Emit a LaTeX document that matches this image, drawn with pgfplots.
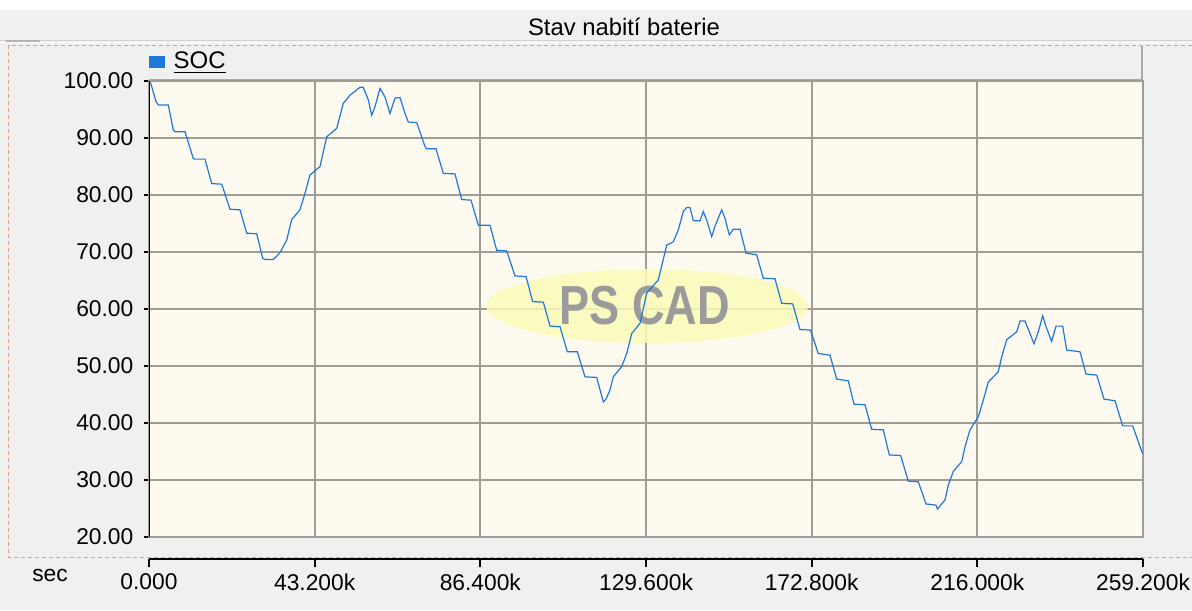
\documentclass[border=0pt]{standalone}
\usepackage{pgfplots}
\pgfplotsset{compat=1.18}
\usepackage{pgfplotstable}
\usepackage{fontspec}
\setmainfont{Liberation Sans}
\definecolor{bggrey}{RGB}{240,240,240}
\definecolor{plotbg}{RGB}{255,250,240}
\definecolor{gridc}{RGB}{160,156,150}
\definecolor{soc}{RGB}{30,120,220}
\definecolor{salmon}{RGB}{225,160,130}
\definecolor{wmyellow}{RGB}{250,250,185}
\definecolor{wmgrey}{RGB}{155,155,155}
\definecolor{legborder}{RGB}{170,170,170}
\newcommand\fs{\fontsize{11.4}{13}\selectfont}

\pgfplotstableread{
x y
0 100
0.5 99.5
1.83 96.4
2.43 95.8
5.03 95.8
6.34 91.4
6.78 91.1
9.39 91.1
11.55 86.4
12.0 86.3
14.60 86.3
16.35 82.0
18.96 81.9
21.12 77.5
23.73 77.4
25.48 73.3
28.08 73.2
29.65 68.9
30.25 68.7
32.41 68.7
34.16 69.9
35.91 72.1
37.21 75.7
39.37 77.4
40.68 80.3
41.98 83.5
44.59 85.0
46.34 90.2
48.95 91.7
50.67 96.1
52.41 97.5
55.02 98.9
55.88 98.9
57.18 96.7
58.07 94.0
58.93 95.5
60.24 98.7
61.54 97.2
62.84 94.3
64.15 97.0
65.45 97.1
66.76 94.3
67.61 92.8
69.81 92.7
71.97 88.5
72.41 88.1
74.84 88.1
76.74 83.8
79.79 83.7
81.54 79.2
83.97 79.1
85.87 74.7
88.92 74.7
90.67 70.3
93.27 70.2
95.44 65.8
98.31 65.7
100.06 61.3
102.82 61.2
104.57 57.0
107.17 56.9
109.08 52.5
111.69 52.5
113.69 48.1
116.74 48.0
118.47 43.7
119.17 44.2
120.21 45.8
121.07 48.1
123.26 49.9
124.57 52.2
125.87 55.7
128.04 57.5
129.78 62.8
132.81 65.1
135.00 71.2
136.72 71.8
138.02 73.9
139.33 77.1
140.21 77.8
141.07 77.8
141.93 75.5
143.68 75.5
144.54 77.1
145.43 75.6
146.73 72.7
147.85 75.0
149.34 77.4
150.20 75.9
151.32 73.0
152.36 74.0
154.11 74.0
155.67 69.8
158.46 69.5
160.18 65.4
163.24 65.3
164.98 61.0
167.85 60.9
169.75 56.4
172.49 56.3
174.52 52.2
177.57 51.9
179.32 47.7
182.35 47.4
183.84 43.3
186.70 43.2
188.45 38.9
191.48 38.8
193.04 34.4
196.01 34.3
197.99 29.8
200.60 29.7
202.61 25.8
205.20 25.6
205.6 24.9
207.56 26.5
208.42 29.1
209.73 31.5
211.92 33.2
212.78 35.8
214.08 38.8
216.25 41.1
217.55 44.0
218.86 47.2
221.46 49.0
222.35 51.6
223.65 54.6
226.26 56.0
227.12 57.9
228.43 57.9
229.73 55.7
230.77 53.9
231.89 56.0
233.04 58.8
234.08 56.6
235.38 54.3
236.51 57.0
238.25 57.0
239.30 52.8
242.77 52.5
244.33 48.6
247.12 48.4
249.03 44.2
251.89 43.9
253.90 39.5
256.51 39.5
258.86 35.0
259.2 34.6
}\socdata

\begin{document}
\begin{tikzpicture}
\begin{scope}[x=0.5pt,y=-0.5pt]
\fill[bggrey] (0,0) rectangle (1192,610);
\fill[white] (0,0) rectangle (1192,10);
\draw[gray!35, line width=0.5pt] (0,41) -- (1192,41);
\draw[gray!60, line width=0.8pt] (6,41) -- (40,41);
\draw[white, line width=0.5pt] (0,42.5) -- (1192,42.5);
\draw[salmon, dash pattern=on 2pt off 1.5pt, line width=0.6pt] (1192,45.5) -- (8.5,45.5) -- (8.5,557.5) -- (1192,557.5);
\node[font=\fontsize{11.9}{14}\selectfont] at (624,27) {Stav nabití baterie};
\fill[bggrey] (149,46) rectangle (1143,81);
\draw[legborder, line width=1pt] (1142,46) -- (1142,80) -- (149,80);
\node[font=\fs] at (50,575) {sec};
\end{scope}

\begin{axis}[
  at={(74.5pt,-268.5pt)}, anchor=south west,
  scale only axis, width=497pt, height=228pt,
  xmin=0, xmax=259.2, ymin=20, ymax=100,
  axis background/.style={fill=plotbg},
  xtick={43.2,86.4,129.6,172.8,216}, xticklabels={},
  xtick style={draw=none},
  ytick={20,30,...,100},
  grid=major,
  major grid style={gridc, line width=1pt},
  axis line style={gridc, line width=1pt},
  ytick style={black, line width=1pt},
  ytick align=outside, ytick pos=left,
  major tick length=2.5pt,
  yticklabel style={font=\fs, xshift=-1.8pt},
  /pgf/number format/fixed,
  /pgf/number format/fixed zerofill,
  /pgf/number format/precision=2,
  /pgf/number format/assume math mode=true,
  legend style={at={(rel axis cs:0,1.0417)}, anchor=west, draw=none, fill=none, font=\fontsize{12}{14}\selectfont, inner sep=0pt},
  legend image code/.code={\fill[soc] (4pt,-2.6pt) rectangle (11pt,2.6pt); \path (13.5pt,0pt);},
]
\fill[wmyellow, opacity=0.85] (axis cs:129.9,60.53) ellipse [x radius=80.5pt, y radius=18.5pt];
\node[text=wmgrey, font=\bfseries\fontsize{27.5}{28}\selectfont, xscale=0.82] at (axis cs:129.3,60.6) {PS CAD};
\addplot[soc, line width=0.6pt] table {\socdata};
\addlegendentry{\underline{SOC}}
\draw[black, line width=1pt] (rel axis cs:0,0) -- (rel axis cs:0,1);
\end{axis}

\begin{axis}[
  at={(74.5pt,-279.5pt)}, anchor=south west,
  scale only axis, width=497pt, height=5pt,
  xmin=0, xmax=259.2, ymin=0, ymax=1,
  axis x line=bottom, axis y line=none,
  axis line style={-, black, line width=1pt},
  xtick={0,43.2,86.4,129.6,172.8,216,259.2},
  xticklabels={0.000,43.200k,86.400k,129.600k,172.800k,216.000k,259.200k},
  xtick align=outside, major tick length=4pt,
  xtick style={black, line width=1pt},
  xticklabel style={font=\fs},
]
\addplot[draw=none] coordinates {(0,0.5)};
\end{axis}
\pgfresetboundingbox
\useasboundingbox (0,0) rectangle (596pt,-305pt);
\end{tikzpicture}
\end{document}
